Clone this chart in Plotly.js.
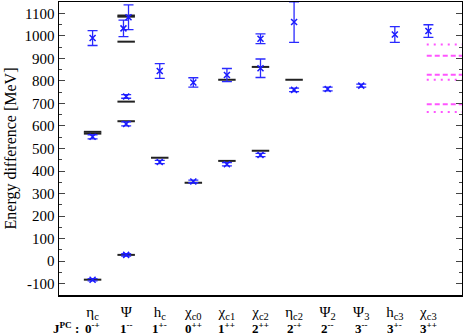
<!DOCTYPE html>
<html>
<head>
<meta charset="utf-8">
<script src="https://cdn.plot.ly/plotly-3.0.1.min.js"></script>
<style>
  html, body { margin: 0; padding: 0; background: #fff; }
  #chart { width: 463px; height: 336px; }
</style>
</head>
<body>
<div id="chart"></div>
<script>
// states along the x axis
const states = ['η<sub>c</sub>', 'Ψ', 'h<sub>c</sub>', 'χ<sub>c0</sub>', 'χ<sub>c1</sub>', 'χ<sub>c2</sub>',
                'η<sub>c2</sub>', 'Ψ<sub>2</sub>', 'Ψ<sub>3</sub>', 'h<sub>c3</sub>', 'χ<sub>c3</sub>'];
const jpc = ['0<sup>-+</sup>', '1<sup>--</sup>', '1<sup>+-</sup>', '0<sup>++</sup>', '1<sup>++</sup>', '2<sup>++</sup>',
             '2<sup>-+</sup>', '2<sup>--</sup>', '3<sup>--</sup>', '3<sup>+-</sup>', '3<sup>++</sup>'];

// lattice results (blue crosses with errors)
const latX   = [1, 1, 1, 1.92, 2.07, 2, 2, 2, 3, 3, 4, 4, 5, 5, 6, 6, 6, 7, 7, 8, 9, 10, 11];
const latY   = [990, 552, -82, 1033, 1082, 731, 609, 28, 844, 440, 793, 354, 826, 430, 987, 856, 471, 1061, 760, 764, 779, 1006, 1021];
const latErr = [33, 9, 5, 37, 55, 8, 9, 5, 33, 7, 21, 6, 29, 7, 22, 41, 7, 90, 8, 8, 7, 35, 28];

// experimental levels (black bars)
const expX = [1, 1, 1, 2, 2, 2, 2, 2, 2, 3, 4, 5, 5, 6, 6, 7];
const expY = [574, 566, -82, 1090, 1085, 974, 708, 621, 28, 459, 348, 805, 445, 862, 490, 805];

// levels on the right edge (magenta)
const dashLevels = [912, 827, 696];
const dotLevels  = [961, 805, 662];

const barHalf = 0.26;
function segments(xs, ys, half) {
    const x = [], y = [];
    xs.forEach((c, i) => {
        x.push(c - half, c + half, null);
        y.push(ys[i], ys[i], null);
    });
    return { x, y };
}
function edgeSegments(levels) {
    const x = [], y = [];
    levels.forEach(v => { x.push(10.95, 12, null); y.push(v, v, null); });
    return { x, y };
}

const expSeg = segments(expX, expY, barHalf);
const dashSeg = edgeSegments(dashLevels);
const dotSeg = edgeSegments(dotLevels);

const data = [
    {
        x: expSeg.x, y: expSeg.y,
        type: 'scatter', mode: 'lines',
        line: { color: '#222', width: 2 },
        hoverinfo: 'skip'
    },
    {
        x: dashSeg.x, y: dashSeg.y,
        type: 'scatter', mode: 'lines',
        line: { color: '#ff55ff', width: 2, dash: '5px,3px' },
        hoverinfo: 'skip'
    },
    {
        x: dotSeg.x, y: dotSeg.y,
        type: 'scatter', mode: 'lines',
        line: { color: '#ff55ff', width: 2, dash: '2px,5px' },
        hoverinfo: 'skip'
    },
    {
        x: latX, y: latY,
        type: 'scatter', mode: 'markers',
        marker: { symbol: 'x-thin-open', size: 6, color: '#1a1aff', line: { color: '#1a1aff', width: 1.5 } },
        error_y: { type: 'data', array: latErr, visible: true, color: '#2a2aff', thickness: 1.3, width: 5 }
    }
];

const serif = 'Liberation Serif, Times New Roman, serif';

const annotations = jpc.map((t, i) => ({
    x: i + 1, y: -0.114, xref: 'x', yref: 'paper', yanchor: 'middle',
    text: '<b>' + t + '</b>', showarrow: false,
    font: { family: serif, size: 13, color: '#000' }
}));
annotations.push({
    x: 0.2, y: -0.114, xref: 'x', yref: 'paper', yanchor: 'middle',
    text: '<b>J<sup>PC</sup> :</b>', showarrow: false,
    font: { family: serif, size: 13, color: '#000' }
});

const yTicks = [-100, 0, 100, 200, 300, 400, 500, 600, 700, 800, 900, 1000, 1100];

const layout = {
    width: 463, height: 336,
    margin: { l: 59, r: 1, t: 2, b: 41 },
    paper_bgcolor: '#fff', plot_bgcolor: '#fff',
    showlegend: false,
    xaxis: {
        range: [0, 12],
        tickvals: states.map((_, i) => i + 1),
        ticktext: states,
        ticks: '',
        ticklabelstandoff: 2,
        showgrid: false, zeroline: false,
        showline: true, linecolor: '#000', linewidth: 1.5, mirror: true,
        tickfont: { family: serif, size: 15, color: '#000' }
    },
    yaxis: {
        range: [-150, 1150],
        tickvals: yTicks,
        ticktext: yTicks.map(String),
        ticks: 'inside', ticklen: 6, tickcolor: '#444',
        minor: { dtick: 50, ticks: 'inside', ticklen: 3, tickcolor: '#444' },
        showgrid: false, zeroline: false,
        showline: true, linecolor: '#000', linewidth: 1.5, mirror: 'ticks',
        tickfont: { family: serif, size: 15, color: '#000' },
        title: { text: 'Energy difference [MeV]', font: { family: serif, size: 16, color: '#000' }, standoff: 4 }
    },
    annotations: annotations
};

Plotly.newPlot('chart', data, layout, { displayModeBar: false, staticPlot: true });
</script>
</body>
</html>
